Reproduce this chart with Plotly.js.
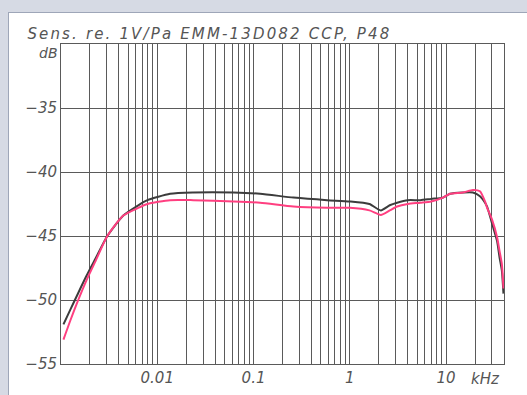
<!DOCTYPE html>
<html>
<head>
<meta charset="utf-8">
<script src="https://cdn.plot.ly/plotly-3.0.1.min.js"></script>
<style>
html, body { margin: 0; padding: 0; width: 527px; height: 395px; overflow: hidden; background: #d6dae4; }
#chart { position: absolute; left: 8px; top: 12px; width: 519px; height: 383px; background: #ffffff; border-left: 1px solid #9ea6b8; border-top: 1px solid #9ea6b8; }
g.annotation[data-index="0"] text { letter-spacing: 2.15px; }
</style>
</head>
<body>
<div id="chart"></div>
<script>
// Frequencies in kHz
const freqBlack = [0.00106, 0.00125, 0.00151, 0.00183, 0.00227, 0.00303, 0.00444, 0.00635, 0.0079, 0.0136, 0.0236, 0.062, 0.117, 0.26, 0.58, 1.0, 1.6, 2.1, 2.6, 3.1, 4.0, 5.4, 7.0, 9.3, 11, 15, 19, 22.5, 25.4, 26.7, 30.8, 33.9, 36, 38, 39.5];
const sensBlack = [-51.9, -50.75, -49.45, -48.15, -46.8, -45.0, -43.4, -42.6, -42.2, -41.7, -41.6, -41.6, -41.7, -42.0, -42.2, -42.3, -42.5, -43.0, -42.6, -42.4, -42.2, -42.2, -42.1, -42.0, -41.7, -41.6, -41.6, -41.9, -42.4, -42.7, -44.3, -45.4, -46.7, -47.7, -49.5];
const freqPink = [0.00106, 0.00125, 0.00151, 0.00183, 0.00227, 0.00303, 0.00444, 0.00635, 0.0079, 0.0136, 0.0236, 0.062, 0.117, 0.26, 0.58, 1.0, 1.6, 2.1, 2.6, 3.1, 4.0, 5.4, 7.0, 9.3, 11, 15, 19, 22.5, 25.4, 26.7, 30.0, 33.9, 36, 38, 39.5];
const sensPink = [-53.1, -51.6, -50.0, -48.5, -47.0, -45.0, -43.4, -42.8, -42.5, -42.2, -42.2, -42.3, -42.4, -42.7, -42.8, -42.8, -43.0, -43.35, -43.0, -42.7, -42.5, -42.4, -42.3, -42.0, -41.7, -41.6, -41.4, -41.5, -42.3, -42.8, -43.7, -45.1, -46.2, -47.2, -49.1];

const titleText = 'Sens. re. 1V/Pa EMM-13D082 CCP, P48';
const yTickVals = [-55, -50, -45, -40, -35];
const yTickText = ['\u221255', '\u221250', '\u221245', '\u221240', '\u221235'];
const xLabeled = {0.01: '0.01', 0.1: '0.1', 1: '1', 10: '10'};
const xUnit = 'kHz';
const yUnit = 'dB';

// grid positions: 1..9 x 10^k within the axis range
const xGrid = [];
const xGridText = [];
[0.001, 0.01, 0.1, 1, 10].forEach(dec => {
  for (let m = 1; m <= 9; m++) {
    const v = +(m * dec).toPrecision(3);
    if (v <= 40) { xGrid.push(v); xGridText.push(xLabeled[v] || ''); }
  }
});

const gridColor = '#5a5a5a';
const textColor = '#555555';
const fontFam = 'DejaVu Sans, sans-serif';

const traces = [
  { x: freqBlack, y: sensBlack, type: 'scatter', mode: 'lines', line: { color: '#3c3c3c', width: 2, shape: 'spline', smoothing: 0.6 }, hoverinfo: 'skip' },
  { x: freqPink, y: sensPink, type: 'scatter', mode: 'lines', line: { color: '#ff3f80', width: 2, shape: 'spline', smoothing: 0.6 }, hoverinfo: 'skip' }
];

const layout = {
  width: 518, height: 382,
  margin: { l: 52, r: 23, t: 31, b: 31 },
  paper_bgcolor: '#ffffff', plot_bgcolor: '#ffffff',
  showlegend: false,
  font: { family: fontFam, size: 15, color: textColor, style: 'italic' },
  xaxis: {
    type: 'log', range: [-3, Math.log10(40)],
    tickmode: 'array', tickvals: xGrid, ticktext: xGridText,
    showgrid: true, gridcolor: gridColor, gridwidth: 1,
    showline: true, linecolor: gridColor, linewidth: 1, mirror: true,
    ticks: '', zeroline: false,
    tickfont: { family: fontFam, size: 15, color: textColor, style: 'italic' }
  },
  yaxis: {
    range: [-55, -30],
    tickmode: 'array', tickvals: yTickVals, ticktext: yTickText,
    showgrid: true, gridcolor: gridColor, gridwidth: 1,
    showline: true, linecolor: gridColor, linewidth: 1, mirror: true,
    ticks: '', zeroline: false,
    tickfont: { family: fontFam, size: 15, color: textColor, style: 'italic' }
  },
  annotations: [
    { text: titleText, xref: 'paper', yref: 'paper', x: 0, y: 1, xanchor: 'left', yanchor: 'bottom', xshift: 2, yshift: -1, showarrow: false,
      font: { family: fontFam, size: 15, color: textColor, style: 'italic' } },
    { text: yUnit, xref: 'paper', yref: 'y', x: 0, y: -30, xanchor: 'right', yanchor: 'top', xshift: -1, yshift: 1, showarrow: false,
      font: { family: fontFam, size: 14, color: textColor, style: 'italic' } },
    { text: xUnit, xref: 'x', yref: 'paper', x: Math.log10(26), y: 0, xanchor: 'center', yanchor: 'top', yshift: -4, showarrow: false,
      font: { family: fontFam, size: 15, color: textColor, style: 'italic' } }
  ]
};

Plotly.newPlot('chart', traces, layout, { staticPlot: true, displayModeBar: false });
</script>
</body>
</html>
